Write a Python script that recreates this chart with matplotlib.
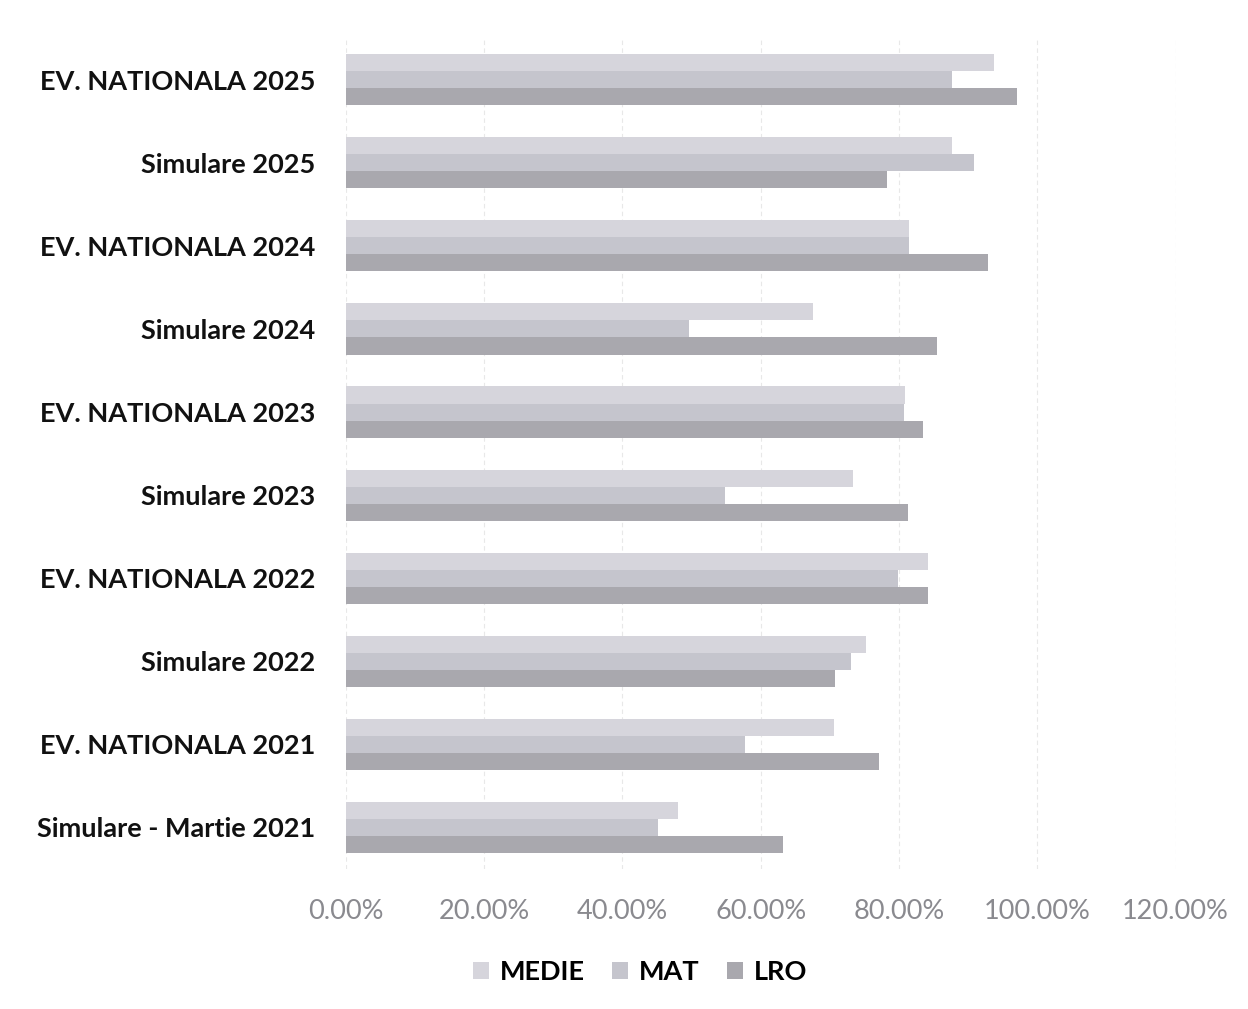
import numpy as np
from matplotlib import pyplot as plt
from matplotlib.ticker import FuncFormatter

# categories, bottom to top
categories = ["Simulare - Martie 2021", "EV. NATIONALA 2021", "Simulare 2022",
              "EV. NATIONALA 2022", "Simulare 2023", "EV. NATIONALA 2023",
              "Simulare 2024", "EV. NATIONALA 2024", "Simulare 2025",
              "EV. NATIONALA 2025"]
medie = [48.1, 70.6, 75.2, 84.2, 73.4, 80.9, 67.6, 81.5, 87.7, 93.8]
mat = [45.1, 57.7, 73.0, 79.8, 54.9, 80.7, 49.7, 81.5, 90.8, 87.6]
lro = [63.2, 77.1, 70.8, 84.2, 81.3, 83.5, 85.5, 92.8, 78.2, 97.1]
x_ticks = [0, 20, 40, 60, 80, 100, 120]

plt.rcParams['font.family'] = ['Lato', 'DejaVu Sans']

fig = plt.figure(figsize=(12.48, 10.09), dpi=100)
ax = fig.add_axes([0.277, 0.139, 0.665, 0.823])

y = np.arange(len(categories))
h = 0.205
ax.barh(y + h, medie, height=h, color="#d6d5dc", label="MEDIE")
ax.barh(y, mat, height=h, color="#c5c5cd", label="MAT")
ax.barh(y - h, lro, height=h, color="#a9a8ae", label="LRO")

ax.set_xlim(0, 120)
ax.set_ylim(-0.5, len(categories) - 0.5)
ax.set_xticks(x_ticks)
ax.xaxis.set_major_formatter(FuncFormatter(lambda v, p: "%.2f%%" % v))
ax.set_yticks(y)
ax.set_yticklabels(categories, fontsize=19.5, fontweight="bold", color="#111111")
ax.tick_params(axis="x", labelsize=19.5, labelcolor="#8a8a8f", length=0, pad=22)
ax.tick_params(axis="y", length=0, pad=22)
for s in ax.spines.values():
    s.set_visible(False)
ax.grid(axis="x", color="#e8e8e8", linestyle=(0, (4, 3)), linewidth=0.8)
ax.set_axisbelow(True)

leg = fig.legend(loc="center", bbox_to_anchor=(0.513, 0.037), ncol=3, frameon=False,
                 prop={"size": 19.5, "weight": "bold"}, handlelength=0.6,
                 handleheight=0.6, handletextpad=0.4, columnspacing=1.0)

fig.savefig("out.png", dpi=100)
